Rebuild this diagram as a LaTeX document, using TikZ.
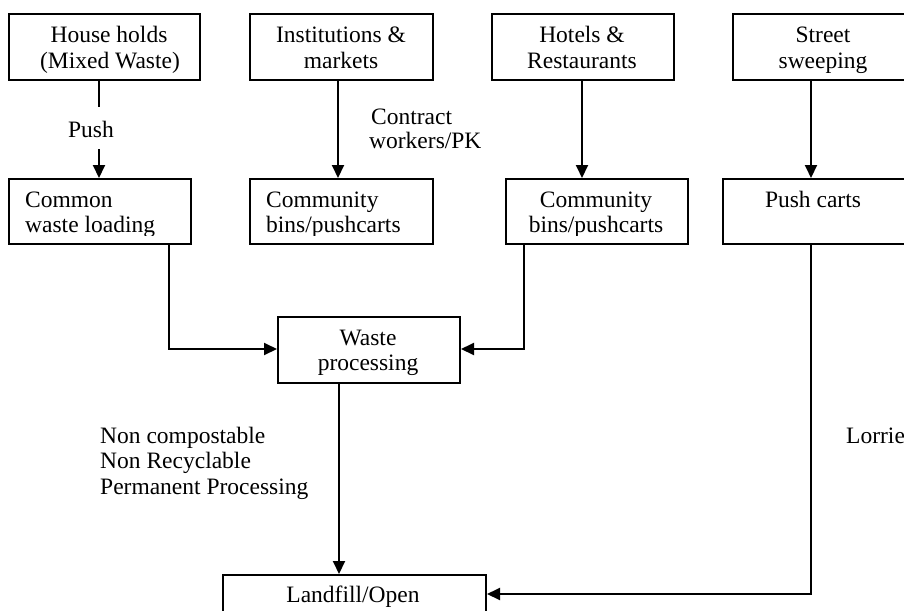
\documentclass[tikz,border=0pt]{standalone}
\usepackage{fontspec}
\setmainfont{Liberation Serif}
\usetikzlibrary{arrows.meta}
\begin{document}
\begin{tikzpicture}[x=1pt,y=-1pt,
  box/.style={draw=black,line width=2pt,inner sep=0pt,anchor=north west},
  txt/.style={inner sep=0pt,font=\fontsize{23.5}{25}\selectfont},
  conn/.style={line width=2pt,-{Triangle[length=13pt,width=12pt]}},
  plain/.style={line width=2pt}]
\useasboundingbox (0,0) rectangle (904,610);
\clip (0,0) rectangle (904,610);
% top row boxes
\node[box,minimum width=191pt,minimum height=66pt] (hh) at (8,13) {};
\node[box,minimum width=183pt,minimum height=66pt] (inst) at (249,13) {};
\node[box,minimum width=182pt,minimum height=66pt] (hot) at (491,13) {};
\node[box,minimum width=182pt,minimum height=66pt] (str) at (732,13) {};
% second row boxes
\node[box,minimum width=182pt,minimum height=65pt] (cwl) at (8,178) {};
\node[box,minimum width=183pt,minimum height=65pt] (cb1) at (249,178) {};
\node[box,minimum width=182pt,minimum height=65pt] (cb2) at (505,178) {};
\node[box,minimum width=182pt,minimum height=65pt] (pc) at (722,178) {};
% waste processing and landfill
\node[box,minimum width=182pt,minimum height=66pt] (wp) at (277,316) {};
\node[box,minimum width=263pt,minimum height=80pt] (lf) at (222,574) {};
% texts
\node[txt,anchor=base] (t1a) at (109,42) {House holds};
\node[txt,anchor=base] (t1b) at (110,68) {(Mixed Waste)};
\node[txt,anchor=base] (t2a) at (341,42) {Institutions \&};
\node[txt,anchor=base] (t2b) at (341,68) {markets};
\node[txt,anchor=base] (t3a) at (582,42) {Hotels \&};
\node[txt,anchor=base] (t3b) at (582,68) {Restaurants};
\node[txt,anchor=base] (t4a) at (823,42) {Street};
\node[txt,anchor=base] (t4b) at (823,68) {sweeping};
\begin{scope}
\clip (0,176) rectangle (904,235);
\node[txt,anchor=base west] (t5a) at (25,207) {Common};
\node[txt,anchor=base west] (t5b) at (25,232) {waste loading};
\node[txt,anchor=base west] (t6a) at (266,207) {Community};
\node[txt,anchor=base west] (t6b) at (266,232) {bins/pushcarts};
\node[txt,anchor=base] (t7a) at (596,207) {Community};
\node[txt,anchor=base] (t7b) at (596,232) {bins/pushcarts};
\node[txt,anchor=base] (t8a) at (813,207) {Push carts};
\end{scope}
\node[txt,anchor=base] (t9a) at (368,345) {Waste};
\node[txt,anchor=base] (t9b) at (368,370) {processing};
\node[txt,anchor=base] (t10) at (353,602) {Landfill/Open};
% labels
\node[txt,anchor=base] (push) at (91,137) {Push};
\node[txt,anchor=base west] (ct1) at (371,124) {Contract};
\node[txt,anchor=base west] (ct2) at (369,148) {workers/PK};
\node[txt,anchor=base west] (nc1) at (100,443) {Non compostable};
\node[txt,anchor=base west] (nc2) at (100,468) {Non Recyclable};
\node[txt,anchor=base west] (nc3) at (100,494) {Permanent Processing};
\node[txt,anchor=base west] (lor) at (846,443) {Lorrie};
% connectors
\coordinate (pa) at (99,107);
\coordinate (pb) at (99,149);
\draw[plain] (hh.south -| pa) -- (pa);
\draw[conn] (pb) -- (cwl.north -| pb);
\draw[conn] (inst.south -| 338,0) -- (cb1.north -| 338,0);
\draw[conn] (hot.south -| 582,0) -- (cb2.north -| 582,0);
\draw[conn] (str.south -| 811,0) -- (pc.north -| 811,0);
\coordinate (lc) at (169,349);
\coordinate (rc) at (524,349);
\draw[conn] (cwl.south -| lc) -- (lc) -- (wp.west |- lc);
\draw[conn] (cb2.south -| rc) -- (rc) -- (wp.east |- rc);
\draw[conn] (wp.south -| 339,0) -- (lf.north -| 339,0);
\coordinate (lorc) at (811,594);
\draw[conn] (pc.south -| lorc) -- (lorc) -- (lf.east |- lorc);
\end{tikzpicture}
\end{document}
